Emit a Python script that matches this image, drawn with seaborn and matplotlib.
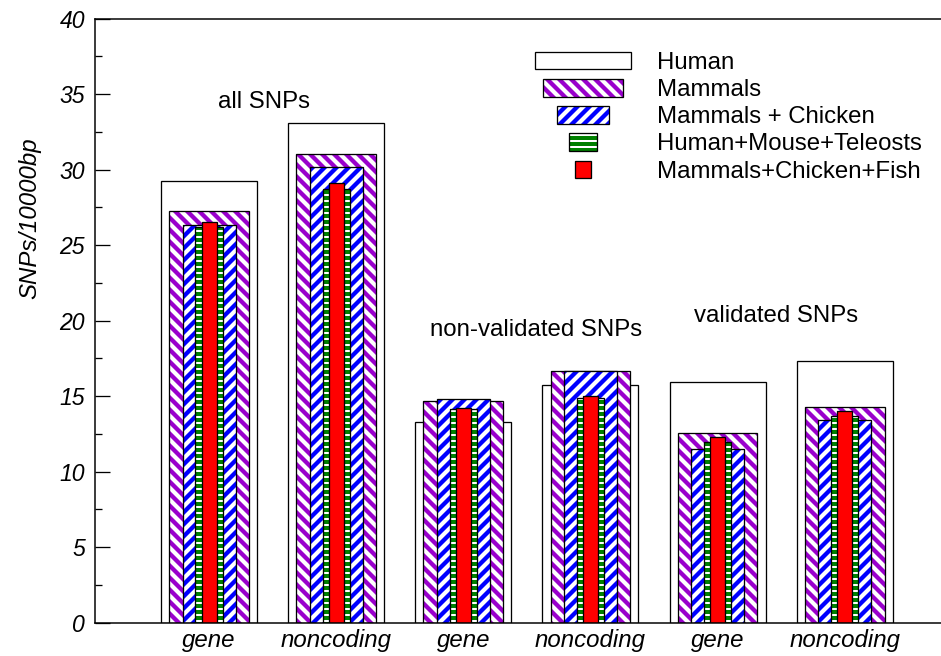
import numpy as np
import pandas as pd
import matplotlib
matplotlib.use("Agg")
import matplotlib.pyplot as plt
import seaborn as sns
from matplotlib.patches import Rectangle, Patch
from matplotlib.legend_handler import HandlerBase
from matplotlib.ticker import MultipleLocator

# ---------------- data ----------------
groups = ["all SNPs", "all SNPs", "non-validated SNPs", "non-validated SNPs",
          "validated SNPs", "validated SNPs"]
tick_labels = ["gene", "noncoding", "gene", "noncoding", "gene", "noncoding"]
categories = [f"{g} | {t}" for g, t in zip(groups, tick_labels)]

human = [29.25, 33.09, 13.27, 15.74, 15.94, 17.31]
mammals = [27.26, 31.04, 14.68, 16.65, 12.58, 14.30]
mammals_chicken = [26.34, 30.16, 14.81, 16.69, 11.48, 13.42]
human_mouse_teleosts = [26.23, 28.70, 14.15, 14.90, 11.99, 13.71]
mammals_chicken_fish = [26.52, 29.12, 14.20, 15.03, 12.28, 14.02]

series_names = ["Human", "Mammals", "Mammals + Chicken",
                "Human+Mouse+Teleosts", "Mammals+Chicken+Fish"]
series_values = [human, mammals, mammals_chicken,
                 human_mouse_teleosts, mammals_chicken_fish]
group_labels = ["all SNPs", "non-validated SNPs", "validated SNPs"]

df = pd.DataFrame({"category": categories})
for name, vals in zip(series_names, series_values):
    df[name] = vals

# ---------------- styles ----------------
styles = {
    "Human": dict(width=0.755, face="white", hatch=None, hcolor="white", hlw=1.0),
    "Mammals": dict(width=0.627, face="white", hatch="\\\\", hcolor="#9900cc", hlw=4.3),
    "Mammals + Chicken": dict(width=0.415, face="white", hatch="//", hcolor="#0000ff", hlw=4.3),
    "Human+Mouse+Teleosts": dict(width=0.215, face="#008000", hatch="--", hcolor="white", hlw=2.0),
    "Mammals+Chicken+Fish": dict(width=0.118, face="#ff0000", hatch=None, hcolor="#ff0000", hlw=1.0),
}
EDGE_LW = 1.3

sns.set_style("white")
plt.rcParams["font.family"] = ["Liberation Sans", "DejaVu Sans"]
plt.rcParams["hatch.linewidth"] = 4.3
for key in ["text.color", "axes.labelcolor", "xtick.color", "ytick.color",
            "axes.edgecolor"]:
    plt.rcParams[key] = "black"

DPI = 72
fig = plt.figure(figsize=(941 / DPI, 656 / DPI), dpi=DPI)
ax = fig.add_axes([95 / 941, (656 - 622.7) / 656, 1 - 95 / 941, (622.7 - 18.7) / 656])


def set_hlw(p, lw):
    if hasattr(p, "set_hatch_linewidth"):
        p.set_hatch_linewidth(lw)


for name in series_names:
    st = styles[name]
    plt.rcParams["hatch.linewidth"] = st["hlw"]
    n_before = len(ax.patches)
    sns.barplot(data=df, x="category", y=name, order=categories, width=st["width"],
                color=st["face"], saturation=1, edgecolor=st["hcolor"], linewidth=0,
                hatch=st["hatch"], ax=ax, errorbar=None)
    new = list(ax.patches[n_before:])
    for p in new:
        set_hlw(p, st["hlw"])
        ax.add_patch(Rectangle(p.get_xy(), p.get_width(), p.get_height(),
                               fill=False, edgecolor="black", linewidth=EDGE_LW,
                               zorder=p.get_zorder()))

# ---------------- axes ----------------
ax.set_xlim(-0.898, 5.758)
ax.set_ylim(0, 40)
ax.set_xlabel("")
ax.set_xticks(range(len(tick_labels)), labels=tick_labels, fontstyle="italic", fontsize=24)
yt = np.arange(0, 41, 5)
ax.set_yticks(yt, labels=[str(v) for v in yt], fontstyle="italic", fontsize=23)
ax.yaxis.set_minor_locator(MultipleLocator(2.5))
ax.tick_params(axis="y", which="major", direction="in", length=15, width=1.3,
               pad=10, left=True, right=False, colors="black")
ax.tick_params(axis="y", which="minor", direction="in", length=7, width=1.3,
               left=True, right=False, colors="black")
ax.tick_params(axis="x", which="both", length=0, pad=6, colors="black")
for s in ["left", "bottom", "top"]:
    ax.spines[s].set_visible(True)
    ax.spines[s].set_color("black")
    ax.spines[s].set_linewidth(1.5)
ax.spines["right"].set_visible(False)

ax.set_ylabel("SNPs/10000bp", fontsize=24, fontstyle="italic", color="black")
ax.yaxis.set_label_coords(-0.063, 0.67)

# group annotations
ann_pos = [(0.432, 34.1), (2.572, 19.0), (4.463, 19.9)]
for lab, (xx, yy) in zip(group_labels, ann_pos):
    ax.text(xx, yy, lab, ha="center", va="baseline", fontsize=24, color="black")


# ---------------- legend ----------------
class NestedHandler(HandlerBase):
    def __init__(self, frac, hlw):
        super().__init__()
        self.frac = frac
        self.hlw = hlw

    def create_artists(self, legend, orig, xdescent, ydescent, width, height,
                       fontsize, trans):
        w = width * self.frac
        x0 = -xdescent + (width - w) / 2
        y0 = -ydescent
        fill = Rectangle((x0, y0), w, height, facecolor=orig.get_facecolor(),
                         edgecolor=orig.get_edgecolor(), hatch=orig.get_hatch(),
                         linewidth=0, transform=trans)
        set_hlw(fill, self.hlw)
        edge = Rectangle((x0, y0), w, height, fill=False, edgecolor="black",
                         linewidth=EDGE_LW, transform=trans)
        return [fill, edge]


handles = []
hmap = {}
maxw = styles["Human"]["width"]
for name in series_names:
    st = styles[name]
    plt.rcParams["hatch.linewidth"] = st["hlw"]
    h = Patch(facecolor=st["face"], edgecolor=st["hcolor"], hatch=st["hatch"])
    handles.append(h)
    hmap[h] = NestedHandler(st["width"] / maxw, st["hlw"])

leg = ax.legend(handles, series_names, handler_map=hmap, loc="upper left",
                bbox_to_anchor=(535 / 941, 1 - 52 / 656), bbox_transform=fig.transFigure,
                frameon=False, fontsize=24, handlelength=4.0, handleheight=0.74,
                labelspacing=0.21, handletextpad=1.1, borderpad=0, borderaxespad=0)
for t in leg.get_texts():
    t.set_color("black")

fig.savefig("out.png", dpi=DPI)
